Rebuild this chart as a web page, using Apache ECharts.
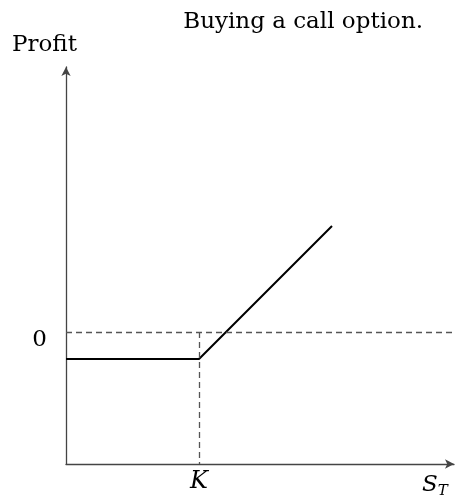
<!DOCTYPE html>
<html>
  <head>
    <meta charset="utf-8">
    <title>Buying a call option</title>
    <style type="text/css">
    html,body{margin:0;padding:0;background:#fff;}
    #chart{width:456px;height:498px;}
    </style>
    <script src="https://cdn.jsdelivr.net/npm/echarts@6/dist/echarts.min.js"></script>
  </head>
  <body>
    <div id="chart"></div>
    <script type="text/javascript">
      // payoff of a long call: flat at -premium until K, then slope 1
      var stockPrice = [0, 133, 266];
      var profit = [-27, -27, 106];
      var strike = 133;
      var xRange = [0, 388];
      var yRange = [-132, 265];

      var serif = '"DejaVu Serif", serif';
      var chart = echarts.init(document.getElementById('chart'));

      var option = {
        animation: false,
        title: {
          text: 'Buying a call option.',
          right: 28,
          top: 6,
          textStyle: {fontFamily: serif, fontWeight: 'normal', fontSize: 23, color: '#000'}
        },
        grid: {left: 66, right: 2, top: 67, bottom: 34},
        xAxis: {
          type: 'value',
          min: xRange[0],
          max: xRange[1],
          splitLine: {show: false},
          axisTick: {show: false},
          axisLine: {
            onZero: false,
            symbol: ['none', 'arrow'],
            symbolSize: [7, 9],
            lineStyle: {color: '#444', width: 1.3}
          },
          axisLabel: {
            customValues: [strike],
            formatter: function () { return 'K'; },
            margin: 6,
            fontFamily: serif, fontStyle: 'italic', fontSize: 24, color: '#000'
          }
        },
        yAxis: {
          type: 'value',
          min: yRange[0],
          max: yRange[1],
          splitLine: {show: false},
          axisTick: {show: false},
          axisLine: {
            onZero: false,
            symbol: ['none', 'arrow'],
            symbolSize: [7, 9],
            lineStyle: {color: '#444', width: 1.3}
          },
          axisLabel: {
            customValues: [0],
            formatter: function () { return '0'; },
            margin: 19,
            verticalAlign: 'top',
            lineHeight: 16,
            fontFamily: serif, fontSize: 23, color: '#000'
          }
        },
        graphic: [
          {type: 'text', left: 12, top: 34,
           style: {text: 'Profit', font: '23px ' + serif, fill: '#000'}},
          {type: 'text', left: 422, top: 474,
           style: {text: '{s|S}{t|T}',
                   rich: {s: {fontFamily: serif, fontStyle: 'italic', fontSize: 23, fill: '#000'},
                          t: {fontFamily: serif, fontStyle: 'italic', fontSize: 15, fill: '#000', padding: [12, 0, 0, 0]}}}}
        ],
        series: [{
          type: 'line',
          data: stockPrice.map(function (s, i) { return [s, profit[i]]; }),
          symbol: 'none',
          lineStyle: {color: '#000', width: 2},
          markLine: {
            silent: true,
            symbol: 'none',
            label: {show: false},
            lineStyle: {color: '#555', type: [6, 4], width: 1.3},
            data: [
              [{coord: [xRange[0], 0]}, {coord: [xRange[1], 0]}],
              [{coord: [strike, 0]}, {coord: [strike, yRange[0]]}]
            ]
          }
        }]
      };
      chart.setOption(option);
    </script>
  </body>
</html>
